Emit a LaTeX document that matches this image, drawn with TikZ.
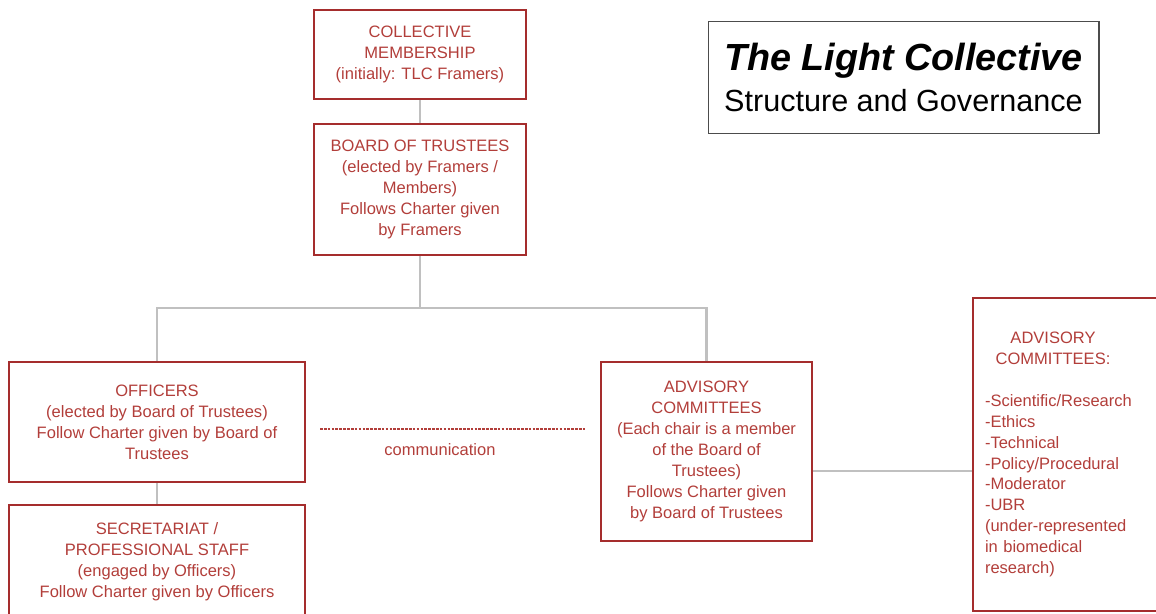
\documentclass[tikz,border=0pt]{standalone}
\usepackage{fontspec}
\setmainfont{Liberation Sans}
\definecolor{tlcred}{RGB}{178,62,58}
\definecolor{tlcframe}{RGB}{165,45,45}
\definecolor{tlcgray}{RGB}{192,192,192}

\begin{document}
\begin{tikzpicture}[x=0.02cm, y=-0.02cm,
   orgbox/.style={rectangle, draw=tlcframe, line width=1.3pt, text=tlcred, align=center, inner sep=2pt, font=\fontsize{9.4}{11.9}\selectfont},
   link/.style={draw=tlcgray, line width=1.5pt},
   comm/.style={draw=tlcred, line width=0.6pt, dash pattern=on 1.5pt off 0.7pt}]
   \clip (0,0) rectangle (1156,614);
   \node[draw=black!70, line width=0.6pt, minimum width=7.82cm, minimum height=2.24cm, align=center] (title) at (903.5,77.5)
     {{\fontsize{21.5}{26}\selectfont\bfseries\itshape The Light Collective}\\[5pt]{\fontsize{17.4}{22}\selectfont Structure and Governance}};
   \begin{scope}[every node/.style={orgbox}]
    \node[minimum width=4.24cm, minimum height=1.78cm] (member) at (420,54.5) {COLLECTIVE\\MEMBERSHIP\\(initially: TLC Framers)};
    \node[minimum width=4.24cm, minimum height=2.62cm] (board) at (420,189.5) {BOARD OF TRUSTEES\\(elected by Framers /\\Members)\\Follows Charter given\\by Framers};
    \node[minimum width=5.92cm, minimum height=2.4cm] (officers) at (157,422) {OFFICERS\\(elected by Board of Trustees)\\Follow Charter given by Board of\\Trustees};
    \node[minimum width=5.92cm, minimum height=2.26cm] (staff) at (157,561.5) {SECRETARIAT /\\PROFESSIONAL STAFF\\(engaged by Officers)\\Follow Charter given by Officers};
    \node[minimum width=4.22cm, minimum height=3.58cm] (advisory) at (706.5,451.5) {ADVISORY\\COMMITTEES\\(Each chair is a member\\of the Board of\\Trustees)\\Follows Charter given\\by Board of Trustees};
    \node[minimum width=4.08cm, minimum height=6.26cm, text width=3.6cm, align=left] (list) at (1075,454.5)
     {\makebox[2.72cm]{ADVISORY}\\\makebox[2.72cm]{COMMITTEES:}\\[11.9pt]-Scientific/Research\\-Ethics\\-Technical\\-Policy/Procedural\\-Moderator\\-UBR\\(under-represented\\in biomedical\\research)};
   \end{scope}
   \begin{scope}[every path/.style={link}]
    \draw (member) -- (board);
    \draw (board.south) -- ++(0,52) -| (officers.north);
    \draw (board.south) -- ++(0,52) -| (advisory.north);
    \draw (officers) -- (staff);
    \draw ([yshift=-0.39cm]advisory.east) -- ([yshift=-0.39cm]advisory.east -| list.west);
   \end{scope}
   \coordinate (c1) at (320,429);
   \coordinate (c2) at (586,429);
   \draw[comm] (c1) -- (c2);
   \node[text=tlcred, font=\fontsize{9.4}{11.9}\selectfont] (commlabel) at (440,450) {communication};
\end{tikzpicture}
\end{document}
